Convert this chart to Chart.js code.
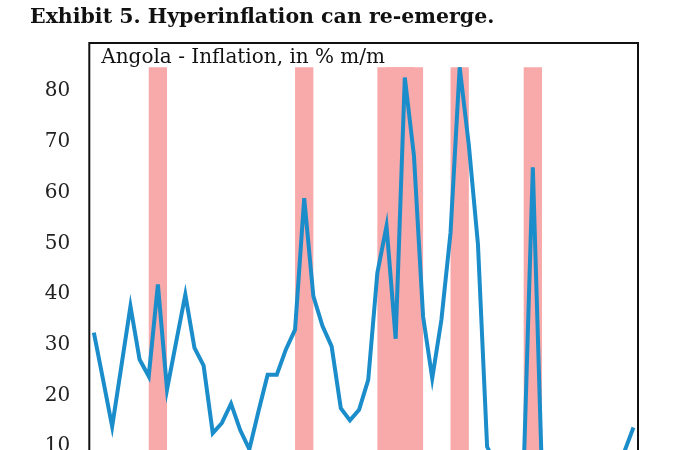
<!DOCTYPE html>
<html>
<head>
<meta charset="utf-8">
<script src="https://cdn.jsdelivr.net/npm/chart.js@4"></script>
<style>
    body { margin: 0; background: #fff; }
    #frame { width: 700px; height: 450px; overflow: hidden; }
    #wrap { width: 700px; height: 526px; position: relative; }
</style>
</head>
<body>
<div id="frame">
    <div id="wrap">
        <canvas id="chart"></canvas>
    </div>
</div>
<script>

// months, 1 to 60
const months = [
    1, 2, 3, 4, 5, 6, 7, 8, 9, 10,
    11, 12, 13, 14, 15, 16, 17, 18, 19, 20,
    21, 22, 23, 24, 25, 26, 27, 28, 29, 30,
    31, 32, 33, 34, 35, 36, 37, 38, 39, 40,
    41, 42, 43, 44, 45, 46, 47, 48, 49, 50,
    51, 52, 53, 54, 55, 56, 57, 58, 59, 60
];

// inflation, % m/m
const inflation = [
    32.0, 22.8, 13.5, 25.3, 37.2, 26.7, 23.4, 41.5, 20.8, 30.2,
    39.5, 29.0, 25.5, 12.2, 14.2, 18.0, 12.8, 9.0, 16.5, 23.7,
    23.7, 28.7, 32.6, 58.5, 39.2, 33.3, 29.3, 17.1, 14.7, 16.8,
    22.7, 43.8, 53.0, 30.8, 82.3, 66.9, 35.2, 23.0, 34.5, 51.7,
    84.3, 69.0, 49.4, 9.5, 6.0, 4.0, 3.0, 5.0, 64.6, 4.0,
    3.0, 2.0, 3.0, 2.0, 4.0, 3.0, 5.0, 6.0, 8.5, 13.3
];

// months shaded as hyperinflation episodes
const bandMonths = [8, 24, 33, 34, 35, 36, 41, 49];
const bandTop = 84.3;

const yTicks = [0, 10, 20, 30, 40, 50, 60, 70, 80];

const bands =
    months.map(m =>
        bandMonths.includes(m) ? bandTop : null
    );

const boxPlugin = {
    id: "box",
    afterDraw(chart) {
        const ctx = chart.ctx;
        const a = chart.chartArea;
        ctx.save();
        ctx.strokeStyle = "#111";
        ctx.lineWidth = 2;
        ctx.strokeRect(a.left, a.top, a.right - a.left, a.bottom - a.top);
        ctx.fillStyle = "#111";
        ctx.font = "20px 'DejaVu Serif'";
        ctx.textBaseline = "alphabetic";
        ctx.fillText("Angola - Inflation, in % m/m", a.left + 12, a.top + 20);
        ctx.restore();
    }
};

new Chart(document.getElementById("chart"), {

    type: "bar",

    data: {
        labels: months,
        datasets: [
            {
                type: "line",
                data: inflation,
                borderColor: "#1a8dca",
                borderWidth: 4,
                pointRadius: 0,
                tension: 0,
                order: 0
            },
            {
                type: "bar",
                data: bands,
                backgroundColor: "#f8a9a9",
                borderWidth: 0,
                barPercentage: 2,
                categoryPercentage: 1,
                order: 1
            }
        ]
    },

    options: {
        responsive: true,
        maintainAspectRatio: false,
        animation: false,
        layout: {
            padding: { left: 30, right: 62, top: 0, bottom: 26 }
        },
        plugins: {
            legend: { display: false },
            tooltip: { enabled: false },
            title: {
                display: true,
                text: "Exhibit 5. Hyperinflation can re-emerge.",
                align: "start",
                color: "#111",
                font: { family: "'DejaVu Serif'", size: 20.5, weight: "bold" },
                padding: { top: 5, bottom: 13.4 }
            }
        },
        scales: {
            x: {
                display: false,
                offset: true,
                grid: { display: false }
            },
            y: {
                min: 0,
                max: 89.1,
                afterFit: s => { s.width = 59.3; },
                afterBuildTicks: s => {
                    s.ticks = yTicks.map(v => ({ value: v }));
                },
                grid: { display: false, drawTicks: false },
                border: { display: false },
                ticks: {
                    padding: 19,
                    labelOffset: 2,
                    color: "#222",
                    font: { family: "'DejaVu Serif'", size: 20 }
                }
            }
        }
    },

    plugins: [boxPlugin]

});

</script>
</body>
</html>
